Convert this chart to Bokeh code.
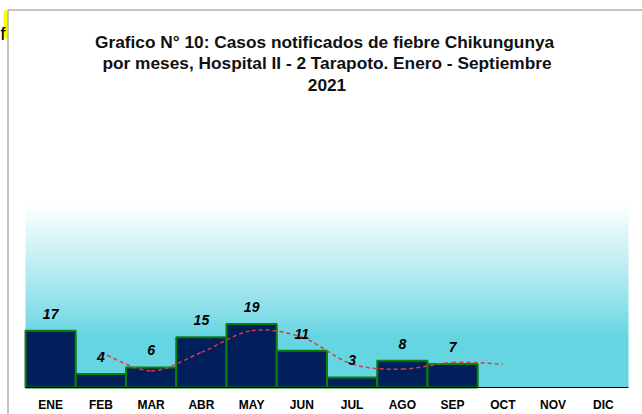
import numpy as np
from bokeh.plotting import figure
from bokeh.models import Range1d, FixedTicker, ColumnDataSource
from bokeh.core.properties import value
from bokeh.embed import file_html
from bokeh.resources import INLINE

# ---- data ----
months = ["ENE", "FEB", "MAR", "ABR", "MAY", "JUN", "JUL", "AGO", "SEP", "OCT", "NOV", "DIC"]
case_months = ["ENE", "FEB", "MAR", "ABR", "MAY", "JUN", "JUL", "AGO", "SEP"]
cases = [17, 4, 6, 15, 19, 11, 3, 8, 7]
# 2-period moving-average trend line
trend_months = ["FEB", "MAR", "ABR", "MAY", "JUN", "JUL", "AGO", "SEP", "OCT"]
trend_values = [10.5, 5, 10.5, 17, 15, 7, 5.5, 7.5, 7]
title_lines = [
    "Grafico N° 10: Casos notificados  de fiebre Chikungunya",
    "por meses, Hospital II - 2 Tarapoto. Enero - Septiembre",
    "2021",
]
Y_MAX = 55  # value axis maximum (top of the coloured plot area)

FONT = "Liberation Sans"

# ---- geometry (pixels in the 642x414 page) ----
W, H = 642, 414
PLOT_L, PLOT_R, PLOT_T, PLOT_B = 25, 628, 203, 387
ux = (PLOT_R - PLOT_L) / len(months)      # px per category
uy = (PLOT_B - PLOT_T) / Y_MAX            # px per case

x_start = -PLOT_L / ux
x_end = len(months) + (W - PLOT_R) / ux
y_start = -(H - PLOT_B) / uy
y_end = PLOT_B / uy


def px_x(px):
    return x_start + px / ux


def px_y(py):
    return (PLOT_B - py) / uy


p = figure(width=W, height=H, x_range=Range1d(x_start, x_end), y_range=Range1d(y_start, y_end),
           output_backend="svg", toolbar_location=None, title=None,
           min_border_left=0, min_border_right=0, min_border_top=0, min_border_bottom=0)
p.outline_line_color = None
p.background_fill_color = "white"
p.border_fill_color = "white"
p.grid.visible = False
p.yaxis.visible = False

# ---- gradient background of the plot area (white -> cyan) ----
n = 200
t = np.linspace(0, 1, n)  # 0 = bottom of plot area
cyan = np.array([102, 213, 226], dtype=float)
white = np.array([255, 255, 255], dtype=float)
k = np.clip((t - 0.28) / 0.72, 0, 1)[:, None] ** 0.9
cols = cyan * (1 - k) + white * k
img = np.zeros((n, 1, 4), dtype=np.uint8)
img[:, 0, :3] = np.round(cols).astype(np.uint8)
img[:, 0, 3] = 255
p.image_rgba(image=[img.view(np.uint32).reshape(n, 1)], x=0, y=0, dw=len(months), dh=Y_MAX)

# ---- document frame / margin marks ----
p.quad(left=px_x(3), right=px_x(7), top=px_y(10), bottom=px_y(38), fill_color="#ffff00", line_color=None)
p.text(x=[px_x(2.5)], y=[px_y(33)], text=["f"], text_align="center", text_baseline="alphabetic",
       text_font=value(FONT), text_font_size="19px", text_color="black")
p.segment(x0=[px_x(7.5), px_x(7.5)], y0=[px_y(9.5), px_y(9.5)], x1=[px_x(7.5), px_x(W)], y1=[px_y(H), px_y(9.5)],
          line_color="#8c8c8c", line_width=1)

# ---- bars ----
xi = {m: i + 0.5 for i, m in enumerate(months)}
bx = [xi[m] for m in case_months]
src = ColumnDataSource(dict(x=bx, top=cases, lab=[str(v) for v in cases]))
p.vbar(x="x", top="top", bottom=0, width=1.0, source=src,
       fill_color="#001f5b", line_color="#0c800c", line_width=2)

# ---- smoothed dashed trend line (Catmull-Rom as Bezier segments) ----
tx = np.array([xi[m] for m in trend_months])
ty = np.array(trend_values, dtype=float)
P = np.column_stack([tx, ty])
Pe = np.vstack([P[0], P, P[-1]])
x0, y0, x1, y1, cx0, cy0, cx1, cy1 = [], [], [], [], [], [], [], []
for i in range(len(P) - 1):
    p0, p1, p2, p3 = Pe[i], Pe[i + 1], Pe[i + 2], Pe[i + 3]
    c1 = p1 + (p2 - p0) / 6.0
    c2 = p2 - (p3 - p1) / 6.0
    x0.append(p1[0]); y0.append(p1[1]); x1.append(p2[0]); y1.append(p2[1])
    cx0.append(c1[0]); cy0.append(c1[1]); cx1.append(c2[0]); cy1.append(c2[1])
p.bezier(x0=x0, y0=y0, x1=x1, y1=y1, cx0=cx0, cy0=cy0, cx1=cx1, cy1=cy1,
         line_color="#dd3b3b", line_width=1.5, line_dash="4 3")

# ---- value labels ----
p.text(x="x", y="top", text="lab", source=src, text_align="center",
       text_baseline="alphabetic", y_offset=-17,
       text_font=value(FONT), text_font_style="bold italic",
       text_font_size="14px", text_color="black")

# ---- x axis (category axis on the baseline) ----
p.xaxis.fixed_location = 0
p.xaxis.bounds = (0, len(months))
p.xaxis.ticker = FixedTicker(ticks=[xi[m] for m in months])
p.xaxis.major_label_overrides = {xi[m]: m for m in months}
p.xaxis.axis_line_color = "black"
p.xaxis.axis_line_width = 1
p.xaxis.major_tick_line_color = None
p.xaxis.minor_tick_line_color = None
p.xaxis.major_tick_out = 0
p.xaxis.major_tick_in = 0
p.xaxis.major_label_standoff = 10
p.xaxis.major_label_text_font = FONT
p.xaxis.major_label_text_font_style = "bold"
p.xaxis.major_label_text_font_size = "12px"
p.xaxis.major_label_text_color = "black"

# ---- title (three centred lines) ----
baselines_px = [41, 62.5, 84]
p.text(x=[len(months) / 2] * 3, y=[px_y(b) for b in baselines_px], text=title_lines,
       text_align="center", text_baseline="alphabetic",
       text_font=value(FONT), text_font_style="bold",
       text_font_size="17.3px", text_color="#111111")

open("out.html", "w").write(file_html(p, INLINE))
